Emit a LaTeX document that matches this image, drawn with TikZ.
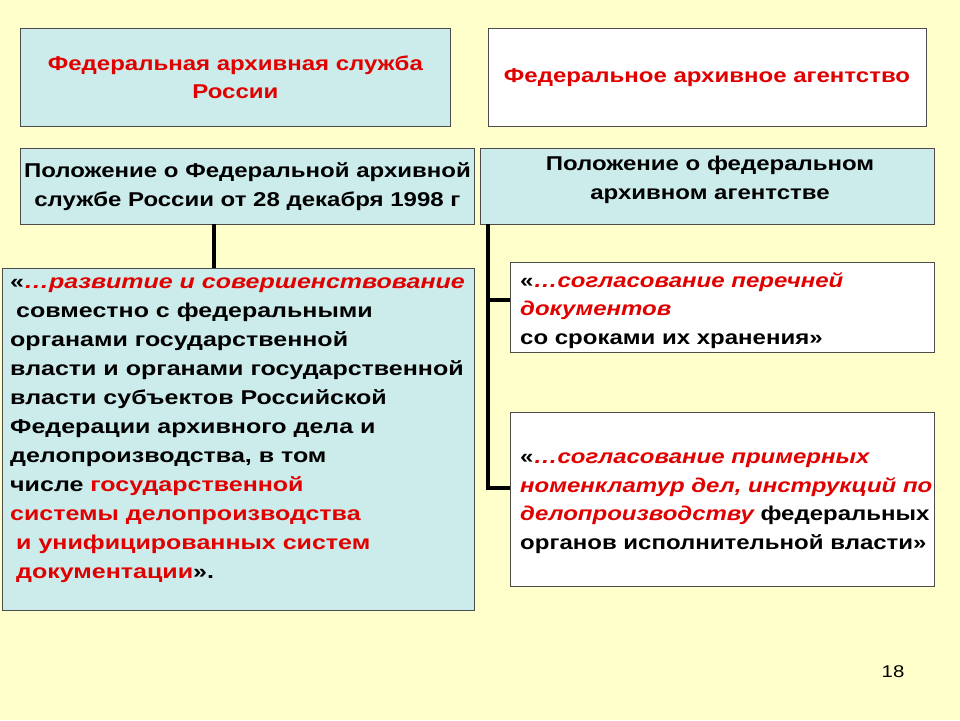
\documentclass[tikz,border=0pt]{standalone}
\usepackage{fontspec}
\setmainfont{Liberation Sans}[FakeStretch=1.2]
\newfontfamily\widefont{Liberation Sans}[FakeStretch=1.25]
\begin{document}
\begin{tikzpicture}[x=1pt,y=-1pt,
  bx/.style={draw=black!70,line width=0.8pt},
  cy/.style={bx,fill=cyanbg},
  wh/.style={bx,fill=white},
  txt/.style={font=\fontsize{20}{28.5}\selectfont\bfseries,align=left,inner sep=0pt},
  ln/.style={line width=3.5pt,black}]
\definecolor{bg}{HTML}{FFFFCC}
\definecolor{cyanbg}{HTML}{CCECEC}
\definecolor{rd}{HTML}{E00000}
\useasboundingbox[fill=bg] (0,0) rectangle (960,720);
\newcommand{\ri}[1]{\textcolor{rd}{\itshape #1}}
\node[cy,minimum width=430,minimum height=98,anchor=north west] (a) at (20,28) {};
\node[txt,align=center,text=rd] at (a.center) {Федеральная архивная служба\\России};
\node[wh,minimum width=438,minimum height=98,anchor=north west] (b) at (488,28) {};
\node[txt,text=rd] at (707,78) {Федеральное архивное агентство};
\node[cy,minimum width=454,minimum height=76,anchor=north west] (c) at (20,148) {};
\node[txt,align=center] at (c.center) {Положение о Федеральной архивной\\службе России от 28 декабря 1998 г};
\node[cy,minimum width=454,minimum height=76,anchor=north west] (d) at (480,148) {};
\node[txt,align=center,anchor=north] at (710,156) {Положение о федеральном\\архивном агентстве};
\node[cy,minimum width=472,minimum height=342,anchor=north west] (e) at (2,268) {};
\node[txt,font=\fontsize{20}{29}\selectfont\bfseries\widefont,anchor=north west] (et) at (10,278) {«\ri{…развитие и совершенствование}\\
\hspace{6pt}совместно с федеральными\\
органами государственной\\
власти и органами государственной\\
власти субъектов Российской\\
Федерации архивного дела и\\
делопроизводства, в том\\
числе \textcolor{rd}{государственной}\\
\textcolor{rd}{системы делопроизводства}\\
\hspace{6pt}\textcolor{rd}{и унифицированных систем}\\
\hspace{6pt}\textcolor{rd}{документации}».};
\node[wh,minimum width=424,minimum height=90,anchor=north west] (f) at (510,262) {};
\node[txt,anchor=north west] at (520,272) {«\ri{…согласование перечней}\\\ri{документов}\\со сроками их хранения»};
\node[wh,minimum width=424,minimum height=174,anchor=north west] (g) at (510,412) {};
\node[txt,anchor=north west] at (520,453) {«\ri{…согласование примерных}\\\ri{номенклатур дел, инструкций по}\\\ri{делопроизводству} федеральных\\органов исполнительной власти»};
\coordinate (c1) at (214,224);
\draw[ln,line width=4.5pt] (c1) -- (214,268);
\coordinate (r0) at (488,224);
\coordinate (r1) at (488,300);
\coordinate (r2) at (488,488);
\draw[ln] (r0) -- (r2) -- (510,488);
\draw[ln] (r1) -- (510,300);
\node[font=\fontsize{17}{20}\selectfont] at (893,672) {18};
\end{tikzpicture}
\end{document}
